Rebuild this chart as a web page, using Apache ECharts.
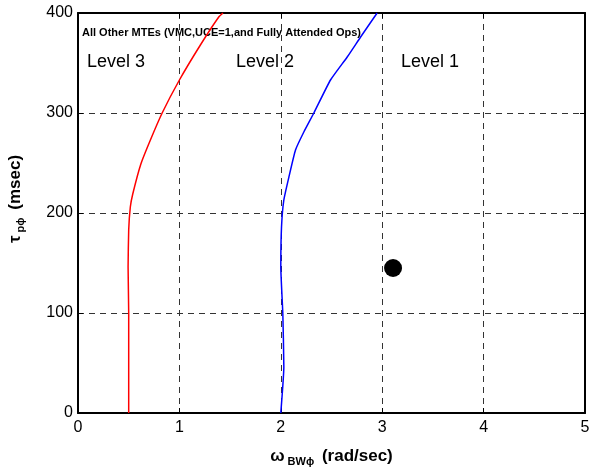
<!DOCTYPE html>
<html><head><meta charset="utf-8">
<script src="https://cdn.jsdelivr.net/npm/echarts@6/dist/echarts.min.js"></script>
<style>html,body{margin:0;padding:0;background:#fff}#c{width:589px;height:468px}</style>
</head><body><div id="c"></div>
<script>
var level3X = [0.5, 0.5, 0.494, 0.5, 0.516, 0.54, 0.62, 0.714, 0.83, 1.0, 1.207, 1.388, 1.43];
var level3Y = [0, 100, 146, 183, 206, 219, 249, 273, 300, 333, 368, 396, 400];
var level2X = [2.0, 2.03, 2.02, 2.0, 2.007, 2.03, 2.08, 2.145, 2.227, 2.326, 2.49, 2.655, 2.787, 2.95];
var level2Y = [0, 46, 99, 146, 186, 213, 236, 263, 281, 300, 333, 356, 376, 400];
var pointX = [3.107];
var pointY = [145];
var xTicks = [0, 1, 2, 3, 4, 5];
var yTicks = [0, 100, 200, 300, 400];
var regionLabels = ['Level 3', 'Level 2', 'Level 1'];
var titleText = 'All Other MTEs (VMC,UCE=1,and Fully Attended Ops)';

function pairs(xs, ys){ return xs.map(function(x,i){return [x, ys[i]];}); }
var font = 'Liberation Sans, Arial, sans-serif';
var chart = echarts.init(document.getElementById('c'), null, {renderer:'canvas'});
var gridDash = {show:true, lineStyle:{color:'#333', type:[6,5], width:1}};
chart.setOption({
  animation:false,
  grid:{left:78, right:4, top:13, bottom:55, outerBoundsMode:'none', containLabel:false},
  xAxis:[{
    type:'value', min:xTicks[0], max:xTicks[xTicks.length-1], interval:1,
    axisLine:{onZero:false, lineStyle:{color:'#000', width:2}},
    axisTick:{inside:true, length:5, lineStyle:{color:'#000'}},
    axisLabel:{color:'#000', fontSize:16, fontFamily:font, margin:7},
    splitLine:gridDash,
    name:'{w|ω}{s|BWϕ}{w| (rad/sec)}', nameLocation:'middle', nameGap:33,
    nameTextStyle:{rich:{
      w:{fontSize:17, fontWeight:'bold', fontFamily:font, color:'#000'},
      s:{fontSize:11, fontWeight:'bold', fontFamily:font, color:'#000', verticalAlign:'bottom', padding:[10,3,0,3]}
    }}
  },{
    type:'value', position:'top', min:0, max:5, interval:1,
    axisLine:{onZero:false, lineStyle:{color:'#000', width:2}},
    axisTick:{inside:true, length:5, lineStyle:{color:'#000'}},
    axisLabel:{show:false}, splitLine:{show:false}
  }],
  yAxis:[{
    type:'value', min:yTicks[0], max:yTicks[yTicks.length-1], interval:100,
    axisLine:{onZero:false, lineStyle:{color:'#000', width:2}},
    axisTick:{inside:true, length:5, lineStyle:{color:'#000'}},
    axisLabel:{color:'#000', fontSize:16, fontFamily:font, margin:5},
    splitLine:gridDash,
    name:'{w|τ}{s|pϕ}{w| (msec)}', nameLocation:'middle', nameGap:52, nameRotate:90,
    nameTextStyle:{padding:[0,0,0,28], rich:{
      w:{fontSize:17, fontWeight:'bold', fontFamily:font, color:'#000'},
      s:{fontSize:11, fontWeight:'bold', fontFamily:font, color:'#000', verticalAlign:'bottom', padding:[10,3,0,3]}
    }}
  },{
    type:'value', position:'right', min:0, max:400, interval:100,
    axisLine:{onZero:false, lineStyle:{color:'#000', width:2}},
    axisTick:{inside:true, length:5, lineStyle:{color:'#000'}},
    axisLabel:{show:false}, splitLine:{show:false}
  }],
  series:[
    {type:'line', data:pairs(level3X, level3Y), smooth:0.15, showSymbol:false, lineStyle:{color:'#ff0000', width:1.5}},
    {type:'line', data:pairs(level2X, level2Y), smooth:0.15, showSymbol:false, lineStyle:{color:'#0000ff', width:1.5}},
    {type:'scatter', data:pairs(pointX, pointY), symbolSize:18, itemStyle:{color:'#000', opacity:1}}
  ],
  graphic:[
    {type:'text', left:82, top:27, style:{text:titleText, fontSize:11, fontWeight:'bold', fontFamily:font, fill:'#000'}},
    {type:'text', left:87, top:53, style:{text:regionLabels[0], fontSize:18, fontFamily:font, fill:'#000'}},
    {type:'text', left:236, top:53, style:{text:regionLabels[1], fontSize:18, fontFamily:font, fill:'#000'}},
    {type:'text', left:401, top:53, style:{text:regionLabels[2], fontSize:18, fontFamily:font, fill:'#000'}}
  ]
});
</script></body></html>
